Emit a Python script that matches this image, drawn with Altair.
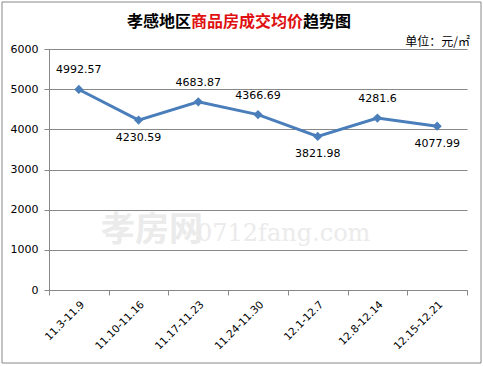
import altair as alt
import pandas as pd

weeks = ["11.3-11.9", "11.10-11.16", "11.17-11.23", "11.24-11.30",
         "12.1-12.7", "12.8-12.14", "12.15-12.21"]
prices = [4992.57, 4230.59, 4683.87, 4366.69, 3821.98, 4281.6, 4077.99]
label_texts = ["4992.57", "4230.59", "4683.87", "4366.69", "3821.98", "4281.6", "4077.99"]
y_ticks = [0, 1000, 2000, 3000, 4000, 5000, 6000]

title_left = "孝感地区"
title_mid = "商品房成交均价"
title_right = "趋势图"
unit_text = "单位：元/㎡"
wm_cn = "孝房网"
wm_en = "0712fang.com"

# label below the point when the point is a local dip
below = []
for i, v in enumerate(prices):
    prev_ok = i == 0 or v < prices[i - 1]
    next_ok = i == len(prices) - 1 or v < prices[i + 1]
    below.append(i > 0 and prev_ok and next_ok)

df = pd.DataFrame({"week": weeks, "price": prices, "label": label_texts, "below": below})

GRAY = "#888888"
BLUE = "#4A7EBB"
NUMFONT = "DejaVu Sans"
CJK = "Noto Sans CJK SC"

x_enc = alt.X("week:N", sort=weeks,
              scale=alt.Scale(type="band", paddingInner=0, paddingOuter=0),
              axis=alt.Axis(title=None, labelAngle=-45, tickBand="extent", grid=False,
                            domainColor=GRAY, tickColor=GRAY, tickSize=5,
                            labelFont=NUMFONT, labelFontSize=10.5, labelColor="#000",
                            labelPadding=4))
y_enc = alt.Y("price:Q", scale=alt.Scale(domain=[0, 6000], nice=False),
              axis=alt.Axis(title=None, values=y_ticks, format="d", grid=True, gridColor=GRAY,
                            domainColor=GRAY, tickColor=GRAY, tickSize=5, labelPadding=6,
                            labelFont=NUMFONT, labelFontSize=11, labelColor="#000"))

base = alt.Chart(df)

def single(txt):
    return alt.Chart(pd.DataFrame({"t": [txt]}))

border = single("b").mark_rect(fill=None, stroke=GRAY, strokeWidth=1).encode(
    x=alt.value(-47), x2=alt.value(432), y=alt.value(-47), y2=alt.value(314))

wm1 = single(wm_cn).mark_text(font=CJK, fontSize=34, fontWeight="bold", color="#ebebeb",
                             align="left", baseline="middle").encode(
    text="t:N", x=alt.value(52), y=alt.value(182))
wm2 = single(wm_en).mark_text(font="DejaVu Serif", fontSize=24, color="#ebebeb",
                             align="left", baseline="middle").encode(
    text="t:N", x=alt.value(148), y=alt.value(185))

line = base.mark_line(color=BLUE, strokeWidth=3).encode(x=x_enc, y=y_enc)
pts = base.mark_point(shape="diamond", filled=True, opacity=1, color=BLUE, size=85).encode(
    x=x_enc, y=y_enc)

lab_above = base.transform_filter("!datum.below").mark_text(
    font=NUMFONT, fontSize=11, color="#000", dy=-19, baseline="middle").encode(
    x=x_enc, y=y_enc, text="label:N")
lab_below = base.transform_filter("datum.below").mark_text(
    font=NUMFONT, fontSize=11, color="#000", dy=18, baseline="middle").encode(
    x=x_enc, y=y_enc, text="label:N")

t1 = single(title_left).mark_text(font=CJK, fontSize=16, fontWeight="bold", color="#000",
                                  align="left", baseline="middle").encode(
    text="t:N", x=alt.value(78), y=alt.value(-27))
t2 = single(title_mid).mark_text(font=CJK, fontSize=16, fontWeight="bold", color="#E01010",
                                 align="left", baseline="middle").encode(
    text="t:N", x=alt.value(142), y=alt.value(-27))
t3 = single(title_right).mark_text(font=CJK, fontSize=16, fontWeight="bold", color="#000",
                                   align="left", baseline="middle").encode(
    text="t:N", x=alt.value(254), y=alt.value(-27))
unit = single(unit_text).mark_text(font=CJK, fontSize=12, color="#000",
                                   align="right", baseline="middle").encode(
    text="t:N", x=alt.value(421), y=alt.value(-7))

chart = alt.layer(border, wm1, wm2, line, pts, lab_above, lab_below, t1, t2, t3, unit).properties(
    width=418, height=241, autosize="none",
    padding={"left": 49, "top": 49, "right": 16, "bottom": 76},
    background="white",
).configure_view(stroke=None)

chart.save("out.html", embed_options={"renderer": "svg", "actions": False})
